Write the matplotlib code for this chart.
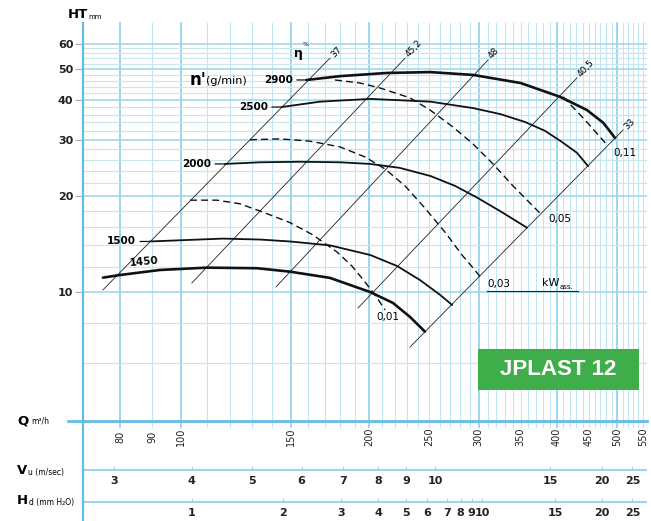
import matplotlib
matplotlib.use('Agg')
import numpy as np
import matplotlib.pyplot as plt
from matplotlib import font_manager
from matplotlib.patches import Rectangle
from matplotlib.lines import Line2D

# ---- data (Q in m3/h, HT in mm) ----
q_2900 = [159, 180, 214, 251, 294, 350, 405, 447, 475, 496]
h_2900 = [46.2, 47.5, 48.6, 48.9, 47.9, 45.2, 40.9, 37.2, 33.9, 30.4]
q_2500 = [145, 167, 201, 251, 294, 325, 356, 383, 408, 431, 449]
h_2500 = [38.0, 39.5, 40.3, 39.5, 37.7, 36.1, 34.1, 32.0, 29.5, 27.3, 24.8]
q_2000 = [117.6, 133.8, 155, 180, 201, 224, 251, 275, 299, 325, 358.5]
h_2000 = [25.2, 25.5, 25.6, 25.5, 25.2, 24.5, 23.1, 21.5, 19.7, 17.9, 15.9]
q_1500 = [89.2, 116.7, 134, 149.5, 173.3, 201, 222, 241.5, 260, 272]
h_1500 = [14.4, 14.7, 14.6, 14.4, 14.0, 13.06, 12.06, 10.9, 9.8, 9.1]
q_1450 = [75, 79.8, 92.5, 110, 132.4, 149.5, 173.3, 200.9, 218.6, 232.8, 246]
h_1450 = [11.09, 11.3, 11.72, 11.92, 11.87, 11.58, 11.07, 10.0, 9.24, 8.35, 7.51]

# absorbed power (kW) curves, dashed
q_kw011 = [409.5, 444, 481.6]
h_kw011 = [40.9, 34.6, 28.9]
q_kw005 = [176.5, 193.6, 208.4, 232.8, 250.6, 272.8, 293.8, 316.2, 340.4, 362.4, 378.8]
h_kw005 = [46.2, 45.2, 43.6, 40.6, 37.2, 32.9, 29.1, 25.2, 21.5, 19.0, 17.4]
q_kw003 = [129, 144.1, 160.9, 179.8, 197.2, 212.3, 228.6, 246.1, 264.9, 282, 293.8, 302.5]
h_kw003 = [30.0, 30.2, 29.7, 28.5, 26.5, 24.3, 21.5, 18.3, 15.4, 13.06, 11.89, 11.07]
q_kw001 = [103.4, 114.2, 124.3, 135.3, 149.5, 162.7, 177.8, 187.9, 197.2, 206.2, 212.3]
h_kw001 = [19.4, 19.4, 18.9, 17.8, 16.5, 15.1, 13.35, 12.06, 10.75, 9.58, 8.78]

# efficiency lines (eta %), start/end points
eta_labels = ['37', '45,2', '48', '40,5', '33']
eta_q = [(75.0, 173.3), (104.1, 228.6), (142.0, 310.5), (192.2, 431.0), (232.8, 510.9)]
eta_h = [(10.15, 54.1), (10.67, 54.1), (10.37, 53.4), (8.91, 46.9), (6.72, 32.2)]

# bottom scales
q_ticks = [80, 90, 100, 150, 200, 250, 300, 350, 400, 450, 500, 550]
vu_labels = ['3', '4', '5', '6', '7', '8', '9', '10', '15', '20', '25']
vu_q = [78.1, 104.0, 129.8, 156.1, 182.0, 207.1, 229.4, 255.3, 390.2, 472.3, 528.6]
hd_labels = ['1', '2', '3', '4', '5', '6', '7', '8', '9', '10', '15', '20', '25']
hd_q = [104.0, 145.5, 180.3, 207.1, 229.4, 248.2, 266.6, 280.7, 292.3, 304.1, 397.6, 472.3, 528.6]
ht_ticks = [10, 20, 30, 40, 50, 60]

names = {f.name for f in font_manager.fontManager.ttflist}
narrow = 'Liberation Sans Narrow' if 'Liberation Sans Narrow' in names else 'DejaVu Sans'
plt.rcParams['font.family'] = [narrow, 'DejaVu Sans']

W, H = 651, 521
fig = plt.figure(figsize=(W / 100, H / 100), dpi=100)


def fp(x, y):
    return x / W, 1 - y / H


def ftext(x, y, s, **kw):
    fig.text(x / W, 1 - y / H, s, **kw)


blue = '#62bce8'
vmin_c = '#c0e5f5'
hmin_c = '#c8e6ec'

ax = fig.add_axes([83 / W, 1 - 421 / H, (647 - 83) / W, (421 - 23) / H])
ax.set_xscale('log')
ax.set_yscale('log')
ax.set_xlim(69.68, 558)
ax.set_ylim(3.94, 69.7)
ax.xaxis.set_minor_locator(matplotlib.ticker.NullLocator())
ax.yaxis.set_minor_locator(matplotlib.ticker.NullLocator())

# grid
for q in range(80, 551, 10):
    major = q in (80, 100, 150, 200, 300, 400, 500)
    ax.axvline(q, ymin=-6 / 398, ymax=1, color='#8dcfee' if major else vmin_c,
               lw=1.2 if major else 0.8, clip_on=False, zorder=0)
for h in range(6, 61, 2):
    major = h in (10, 20, 30, 40, 50, 60)
    ax.axhline(h, color='#9dd5e8' if major else hmin_c, lw=1.1 if major else 0.8, zorder=0)

for s in ('top', 'right'):
    ax.spines[s].set_visible(False)
ax.spines['left'].set_color(blue)
ax.spines['left'].set_linewidth(1.6)
ax.spines['bottom'].set_color(blue)
ax.spines['bottom'].set_linewidth(2)
ax.plot([-15 / 564, 0], [0, 0], transform=ax.transAxes, color=blue, lw=2, clip_on=False)

ax.set_xticks([])
ax.set_yticks(ht_ticks)
ax.set_yticklabels([str(t) for t in ht_ticks])
ax.tick_params(axis='y', length=6, width=0.8, color='#aaaaaa', pad=1, labelsize=8)
for t in ax.get_yticklabels():
    t.set_fontweight('bold')
    t.set_color('#222222')

# efficiency lines
for lab, qq, hh in zip(eta_labels, eta_q, eta_h):
    ax.plot(qq, hh, color='#222222', lw=0.6, zorder=2)
    p0 = ax.transData.transform((qq[0], hh[0]))
    p1 = ax.transData.transform((qq[1], hh[1]))
    ang = np.degrees(np.arctan2(p1[1] - p0[1], p1[0] - p0[0]))
    d = (p1 - p0) / np.hypot(*(p1 - p0))
    ax.annotate(lab, xy=(qq[1], hh[1]), xytext=(d[0] * 3, d[1] * 3), textcoords='offset pixels',
                rotation=ang, rotation_mode='anchor', ha='left', va='center', fontsize=6.5)

# speed curves
speeds = [('2900', q_2900, h_2900, 1.9), ('2500', q_2500, h_2500, 1.3),
          ('2000', q_2000, h_2000, 1.3), ('1500', q_1500, h_1500, 1.3),
          ('1450', q_1450, h_1450, 1.9)]
for lab, qq, hh, lw in speeds:
    ax.plot(qq, hh, color='#111111', lw=lw, solid_capstyle='round', solid_joinstyle='round', zorder=3)
    if lab == '1450':
        ax.annotate(lab, xy=(qq[2], hh[2]), xytext=(-16, 8), textcoords='offset pixels',
                    ha='center', va='center', fontsize=7.5, rotation=5, weight='bold')
    else:
        ax.annotate(lab, xy=(qq[0], hh[0]), xytext=(-14, 0), textcoords='offset pixels',
                    ha='right', va='center', fontsize=7.5, weight='bold',
                    arrowprops=dict(arrowstyle='-', lw=0.9, color='#111111', shrinkA=1, shrinkB=0))

# power curves
kws = [('0,11', q_kw011, h_kw011, (6, -8), 'left'),
       ('0,05', q_kw005, h_kw005, (6, -4), 'left'),
       ('0,03', q_kw003, h_kw003, (6, -6), 'left'),
       ('0,01', q_kw001, h_kw001, (3, -7), 'center')]
for lab, qq, hh, off, ha in kws:
    ax.plot(qq, hh, color='#111111', lw=1.0, ls=(0, (5, 3)), zorder=3)
    ax.annotate(lab, xy=(qq[-1], hh[-1]), xytext=off, textcoords='offset pixels',
                ha=ha, va='center', fontsize=7.5)

ftext(542, 283, 'kW', fontsize=8, va='center', ha='left')
ftext(560, 287, 'ass.', fontsize=5, va='center', ha='left')
fig.add_artist(Line2D([487 / W, 578 / W], [1 - 291 / H, 1 - 291 / H], color='#222222', lw=0.8))

# annotations in the chart
ftext(190, 80, "n'", fontsize=12, weight='bold', va='center', ha='left')
ftext(206, 81, '(g/min)', fontsize=8, va='center', ha='left')
ftext(294, 54, 'η', fontsize=9, weight='bold', va='center', ha='left', family='DejaVu Sans')
ftext(303, 45, '%', fontsize=4.5, va='center', ha='left')

# axis titles
ftext(68, 15, 'HT', fontsize=9.5, weight='bold', va='center', ha='left')
ftext(88, 17, 'mm', fontsize=5, va='center', ha='left')
ftext(17, 421, 'Q', fontsize=9.5, weight='bold', va='center', ha='left')
ftext(31, 421, 'm³/h', fontsize=5.5, va='center', ha='left')
ftext(17, 470, 'V', fontsize=9.5, weight='bold', va='center', ha='left')
ftext(28, 472, 'u (m/sec)', fontsize=5.5, va='center', ha='left')
ftext(17, 501, 'H', fontsize=9.5, weight='bold', va='center', ha='left')
ftext(29, 503, 'd (mm H₂O)', fontsize=5.5, va='center', ha='left')

# lower scales
ax2 = fig.add_axes([83 / W, 0, 564 / W, 100 / H])
ax2.set_xscale('log')
ax2.set_xlim(ax.get_xlim())
ax2.set_ylim(100, 0)
ax2.patch.set_alpha(0)
for s in ('top', 'right', 'bottom'):
    ax2.spines[s].set_visible(False)
ax2.spines['left'].set_color(blue)
ax2.spines['left'].set_linewidth(1.6)
ax2.set_xticks([])
ax2.set_yticks([])
ax2.xaxis.set_minor_locator(matplotlib.ticker.NullLocator())

ax2.axhline(49, color='#86cced', lw=1.2)
ax2.axhline(81, color='#86cced', lw=1.2)
ax2.vlines(vu_q, 45, 49, color='#a8d2e4', lw=0.8)
ax2.vlines(hd_q, 77, 81, color='#a8d2e4', lw=0.8)

for q in q_ticks:
    ax2.text(q, 16, str(q), rotation=90, ha='center', va='center', fontsize=7, color='#222222')
for lab, q in zip(vu_labels, vu_q):
    ax2.text(q, 60, lab, ha='center', va='center', fontsize=8, weight='bold', color='#222222')
for lab, q in zip(hd_labels, hd_q):
    ax2.text(q, 92, lab, ha='center', va='center', fontsize=8, weight='bold', color='#222222')

# badge
x0, y0 = fp(478, 390)
fig.add_artist(Rectangle((x0, y0), (639 - 478) / W, 41 / H, transform=fig.transFigure,
                         facecolor='#3fae4a', edgecolor='none', zorder=5))
fig.text((478 + 639) / 2 / W, 1 - 369.5 / H, 'JPLAST 12', color='white', fontsize=16,
         weight='bold', ha='center', va='center', family=['Liberation Sans', 'DejaVu Sans'], zorder=6)

fig.savefig('out.png', dpi=100)
